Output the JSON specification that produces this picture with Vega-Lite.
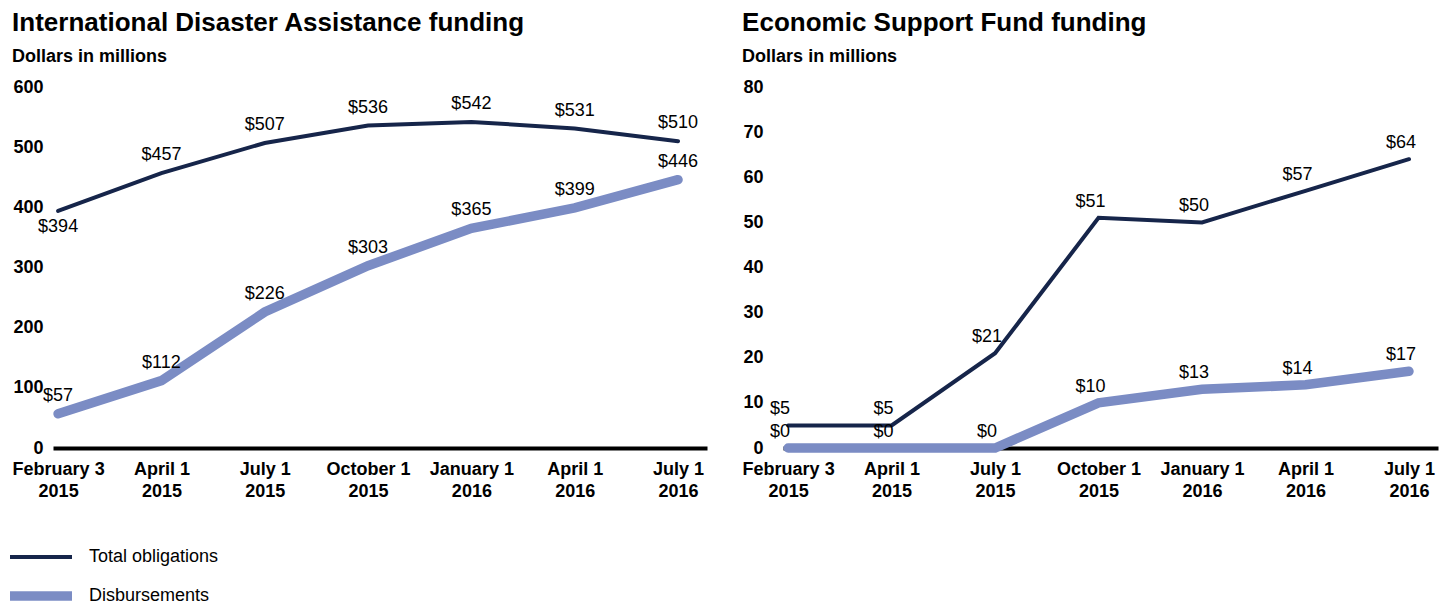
{
  "$schema": "https://vega.github.io/schema/vega-lite/v6.json",
  "padding": {"left": 5, "top": 10, "right": 5, "bottom": 5},
  "background": "white",
  "config": {
    "font": "Liberation Sans, Arial, sans-serif",
    "view": {"stroke": null},
    "title": {"anchor": "start", "fontSize": 26, "fontWeight": "bold", "color": "black", "subtitleFontSize": 18, "subtitleFontWeight": "bold", "subtitleColor": "black", "subtitlePadding": 12, "offset": 12},
    "axis": {"labelFontSize": 18, "labelFontWeight": "bold", "labelColor": "black", "ticks": false, "grid": false, "title": null},
    "legend": {"title": null, "orient": "none", "legendX": -48, "legendY": 460, "padding": 0, "direction": "vertical", "symbolType": "stroke", "symbolSize": 3844, "labelFontSize": 18, "labelColor": "black", "labelOffset": 12, "clipHeight": 20, "rowPadding": 19}
  },
  "data": {"values": [
    {"panel": "IDA", "series": "Total obligations", "date": "February 3 2015", "value": 394},
    {"panel": "IDA", "series": "Total obligations", "date": "April 1 2015", "value": 457},
    {"panel": "IDA", "series": "Total obligations", "date": "July 1 2015", "value": 507},
    {"panel": "IDA", "series": "Total obligations", "date": "October 1 2015", "value": 536},
    {"panel": "IDA", "series": "Total obligations", "date": "January 1 2016", "value": 542},
    {"panel": "IDA", "series": "Total obligations", "date": "April 1 2016", "value": 531},
    {"panel": "IDA", "series": "Total obligations", "date": "July 1 2016", "value": 510},
    {"panel": "IDA", "series": "Disbursements", "date": "February 3 2015", "value": 57},
    {"panel": "IDA", "series": "Disbursements", "date": "April 1 2015", "value": 112},
    {"panel": "IDA", "series": "Disbursements", "date": "July 1 2015", "value": 226},
    {"panel": "IDA", "series": "Disbursements", "date": "October 1 2015", "value": 303},
    {"panel": "IDA", "series": "Disbursements", "date": "January 1 2016", "value": 365},
    {"panel": "IDA", "series": "Disbursements", "date": "April 1 2016", "value": 399},
    {"panel": "IDA", "series": "Disbursements", "date": "July 1 2016", "value": 446},
    {"panel": "ESF", "series": "Total obligations", "date": "February 3 2015", "value": 5},
    {"panel": "ESF", "series": "Total obligations", "date": "April 1 2015", "value": 5},
    {"panel": "ESF", "series": "Total obligations", "date": "July 1 2015", "value": 21},
    {"panel": "ESF", "series": "Total obligations", "date": "October 1 2015", "value": 51},
    {"panel": "ESF", "series": "Total obligations", "date": "January 1 2016", "value": 50},
    {"panel": "ESF", "series": "Total obligations", "date": "April 1 2016", "value": 57},
    {"panel": "ESF", "series": "Total obligations", "date": "July 1 2016", "value": 64},
    {"panel": "ESF", "series": "Disbursements", "date": "February 3 2015", "value": 0},
    {"panel": "ESF", "series": "Disbursements", "date": "April 1 2015", "value": 0},
    {"panel": "ESF", "series": "Disbursements", "date": "July 1 2015", "value": 0},
    {"panel": "ESF", "series": "Disbursements", "date": "October 1 2015", "value": 10},
    {"panel": "ESF", "series": "Disbursements", "date": "January 1 2016", "value": 13},
    {"panel": "ESF", "series": "Disbursements", "date": "April 1 2016", "value": 14},
    {"panel": "ESF", "series": "Disbursements", "date": "July 1 2016", "value": 17}
  ]},
  "spacing": 35,
  "hconcat": [
    {
      "title": {"text": "International Disaster Assistance funding", "subtitle": "Dollars in millions"},
      "width": 654,
      "height": 361,
      "transform": [{"filter": "datum.panel == 'IDA'"}],
      "encoding": {
        "x": {"field": "date", "type": "ordinal", "sort": null, "scale": {"type": "point", "padding": 0.165, "align": 0.15},
          "axis": {"labelExpr": "[slice(datum.label, 0, -5), slice(datum.label, -4)]", "labelAngle": 0, "domainWidth": 4, "domainColor": "black", "labelPadding": 12, "labelLineHeight": 22, "labelBaseline": "top"}},
        "y": {"field": "value", "type": "quantitative", "scale": {"domain": [0, 600]},
          "axis": {"values": [0, 100, 200, 300, 400, 500, 600], "domain": false, "labelPadding": 10}}
      },
      "layer": [
        {"mark": {"type": "line", "strokeCap": "round"},
          "encoding": {
            "color": {"field": "series", "type": "nominal", "sort": null, "scale": {"domain": ["Total obligations", "Disbursements"], "range": ["#16254a", "#7b8cc4"]}},
            "strokeWidth": {"field": "series", "type": "nominal", "sort": null, "scale": {"domain": ["Total obligations", "Disbursements"], "range": [4, 9.5]}}
          }},
        {"transform": [{"filter": "!(datum.series == 'Total obligations' && datum.date == 'February 3 2015')"}],
          "mark": {"type": "text", "dy": -18, "fontSize": 18},
          "encoding": {"text": {"field": "value", "type": "quantitative", "format": "$,.0f"}}},
        {"transform": [{"filter": "datum.series == 'Total obligations' && datum.date == 'February 3 2015'"}],
          "mark": {"type": "text", "dy": 16, "fontSize": 18},
          "encoding": {"text": {"field": "value", "type": "quantitative", "format": "$,.0f"}}}
      ]
    },
    {
      "title": {"text": "Economic Support Fund funding", "subtitle": "Dollars in millions"},
      "width": 655,
      "height": 361,
      "transform": [{"filter": "datum.panel == 'ESF'"}],
      "encoding": {
        "x": {"field": "date", "type": "ordinal", "sort": null, "scale": {"type": "point", "padding": 0.165, "align": 0.15},
          "axis": {"labelExpr": "[slice(datum.label, 0, -5), slice(datum.label, -4)]", "labelAngle": 0, "domainWidth": 4, "domainColor": "black", "labelPadding": 12, "labelLineHeight": 22, "labelBaseline": "top"}},
        "y": {"field": "value", "type": "quantitative", "scale": {"domain": [0, 80]},
          "axis": {"values": [0, 10, 20, 30, 40, 50, 60, 70, 80], "domain": false, "labelPadding": 20}}
      },
      "layer": [
        {"mark": {"type": "line", "strokeCap": "round"},
          "encoding": {
            "color": {"field": "series", "type": "nominal", "sort": null, "scale": {"domain": ["Total obligations", "Disbursements"], "range": ["#16254a", "#7b8cc4"]}},
            "strokeWidth": {"field": "series", "type": "nominal", "sort": null, "scale": {"domain": ["Total obligations", "Disbursements"], "range": [4, 9.5]}}
          }},
        {"mark": {"type": "text", "dy": -16, "dx": -8, "fontSize": 18},
          "encoding": {"text": {"field": "value", "type": "quantitative", "format": "$,.0f"}}}
      ]
    }
  ]
}
